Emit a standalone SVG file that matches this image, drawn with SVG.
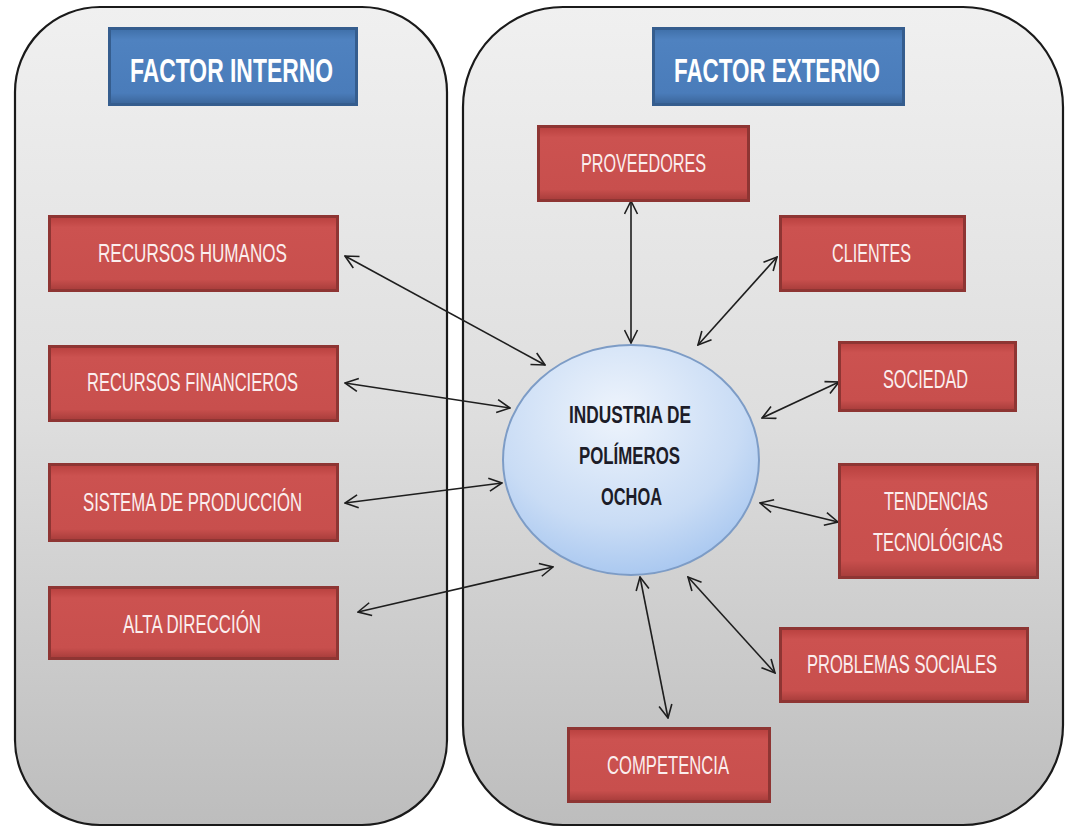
<svg xmlns="http://www.w3.org/2000/svg" width="1067" height="830" viewBox="0 0 1067 830">
<defs>
<linearGradient id="panelGrad" x1="0" y1="0" x2="0" y2="1">
<stop offset="0" stop-color="#f0f0f0"/>
<stop offset="0.5" stop-color="#dedede"/>
<stop offset="1" stop-color="#bdbdbd"/>
</linearGradient>
<linearGradient id="redGrad" x1="0" y1="0" x2="0" y2="1">
<stop offset="0" stop-color="#b8403e"/>
<stop offset="0.15" stop-color="#cc5250"/>
<stop offset="0.85" stop-color="#c84f4d"/>
<stop offset="1" stop-color="#a63c3a"/>
</linearGradient>
<linearGradient id="blueGrad" x1="0" y1="0" x2="0" y2="1">
<stop offset="0" stop-color="#3f6fa8"/>
<stop offset="0.15" stop-color="#4f82c0"/>
<stop offset="0.85" stop-color="#4a7cba"/>
<stop offset="1" stop-color="#3a6498"/>
</linearGradient>
<radialGradient id="ellGrad" cx="0.45" cy="0.3" r="0.8">
<stop offset="0" stop-color="#eef4fc"/>
<stop offset="0.6" stop-color="#c9dcf5"/>
<stop offset="1" stop-color="#9dc0ee"/>
</radialGradient>
<marker id="ah" viewBox="0 0 15 15" refX="14" refY="7.5" markerWidth="15" markerHeight="15" markerUnits="userSpaceOnUse" orient="auto-start-reverse">
<path d="M1,1 L14,7.5 L1,14" fill="none" stroke="#1e1e1e" stroke-width="1.6"/>
</marker>
<style>
.panel{fill:url(#panelGrad);stroke:#1a1a1a;stroke-width:2.2}
.red{fill:url(#redGrad);stroke:#8e3533;stroke-width:3}
.blue{fill:url(#blueGrad);stroke:#355d8e;stroke-width:3}
.rt{font-family:"Liberation Sans Narrow","Liberation Sans",sans-serif;font-size:25px;fill:#fbeeee;text-anchor:middle}
.bt{font-family:"Liberation Sans Narrow","Liberation Sans",sans-serif;font-size:34px;font-weight:bold;fill:#ffffff;text-anchor:middle}
.et{font-family:"Liberation Sans Narrow","Liberation Sans",sans-serif;font-size:24px;font-weight:bold;fill:#1c1c28;text-anchor:middle}
.conn{stroke:#1e1e1e;stroke-width:1.6;fill:none;marker-start:url(#ah);marker-end:url(#ah)}
</style>
</defs>
<rect width="1067" height="830" fill="#ffffff"/>
<g id="panel-interno"><rect class="panel" x="15" y="7" width="432" height="818" rx="85" ry="85"/></g>
<g id="panel-externo"><rect class="panel" x="463" y="7" width="600" height="818" rx="100" ry="100"/></g>
<g id="factor-interno"><rect class="blue" x="109.5" y="28.5" width="247" height="76"/><text class="bt" x="231.5" y="82" textLength="203" lengthAdjust="spacingAndGlyphs">FACTOR INTERNO</text></g>
<g id="factor-externo"><rect class="blue" x="653.5" y="28.5" width="250" height="76"/><text class="bt" x="777" y="82" textLength="206" lengthAdjust="spacingAndGlyphs">FACTOR EXTERNO</text></g>
<g id="connectors">
<line class="conn" x1="345" y1="256" x2="545" y2="365"/>
<line class="conn" x1="345" y1="383" x2="510" y2="408"/>
<line class="conn" x1="345" y1="503" x2="502" y2="483"/>
<line class="conn" x1="358" y1="612" x2="553" y2="567"/>
<line class="conn" x1="631" y1="201" x2="631" y2="343"/>
<line class="conn" x1="698" y1="345" x2="777" y2="257"/>
<line class="conn" x1="762" y1="418" x2="839" y2="382"/>
<line class="conn" x1="760" y1="503" x2="838" y2="522"/>
<line class="conn" x1="688" y1="577" x2="775" y2="673"/>
<line class="conn" x1="640" y1="577" x2="668" y2="718"/>
</g>
<g id="industria"><ellipse cx="631" cy="460" rx="128" ry="115" fill="url(#ellGrad)" stroke="#7d9cc6" stroke-width="2"/>
<text class="et" x="630" y="423" textLength="122" lengthAdjust="spacingAndGlyphs">INDUSTRIA DE</text>
<text class="et" x="629.5" y="464" textLength="101" lengthAdjust="spacingAndGlyphs">POLÍMEROS</text>
<text class="et" x="631.5" y="504.5" textLength="61" lengthAdjust="spacingAndGlyphs">OCHOA</text></g>
<g id="recursos-humanos"><rect class="red" x="49.5" y="216.5" width="288" height="74"/><text class="rt" x="192.5" y="261.5" textLength="189" lengthAdjust="spacingAndGlyphs">RECURSOS HUMANOS</text></g>
<g id="recursos-financieros"><rect class="red" x="49.5" y="346.5" width="288" height="74"/><text class="rt" x="192.5" y="391" textLength="211" lengthAdjust="spacingAndGlyphs">RECURSOS FINANCIEROS</text></g>
<g id="sistema-produccion"><rect class="red" x="49.5" y="464.5" width="288" height="76"/><text class="rt" x="192.5" y="511" textLength="219" lengthAdjust="spacingAndGlyphs">SISTEMA DE PRODUCCIÓN</text></g>
<g id="alta-direccion"><rect class="red" x="49.5" y="587.5" width="288" height="71"/><text class="rt" x="192" y="633" textLength="138" lengthAdjust="spacingAndGlyphs">ALTA DIRECCIÓN</text></g>
<g id="proveedores"><rect class="red" x="538.5" y="126.5" width="210" height="74"/><text class="rt" x="643.5" y="172" textLength="125" lengthAdjust="spacingAndGlyphs">PROVEEDORES</text></g>
<g id="clientes"><rect class="red" x="780.5" y="216.5" width="184" height="74"/><text class="rt" x="871.5" y="261.5" textLength="79" lengthAdjust="spacingAndGlyphs">CLIENTES</text></g>
<g id="sociedad"><rect class="red" x="839.5" y="342.5" width="176" height="68"/><text class="rt" x="925.5" y="388" textLength="85" lengthAdjust="spacingAndGlyphs">SOCIEDAD</text></g>
<g id="tendencias"><rect class="red" x="839.5" y="464.5" width="198" height="113"/><text class="rt" x="936" y="510" textLength="104" lengthAdjust="spacingAndGlyphs">TENDENCIAS</text><text class="rt" x="938" y="551" textLength="130" lengthAdjust="spacingAndGlyphs">TECNOLÓGICAS</text></g>
<g id="problemas-sociales"><rect class="red" x="780.5" y="628.5" width="247" height="73"/><text class="rt" x="902" y="673" textLength="190" lengthAdjust="spacingAndGlyphs">PROBLEMAS SOCIALES</text></g>
<g id="competencia"><rect class="red" x="568.5" y="728.5" width="201" height="73"/><text class="rt" x="668" y="774" textLength="122" lengthAdjust="spacingAndGlyphs">COMPETENCIA</text></g>
</svg>
